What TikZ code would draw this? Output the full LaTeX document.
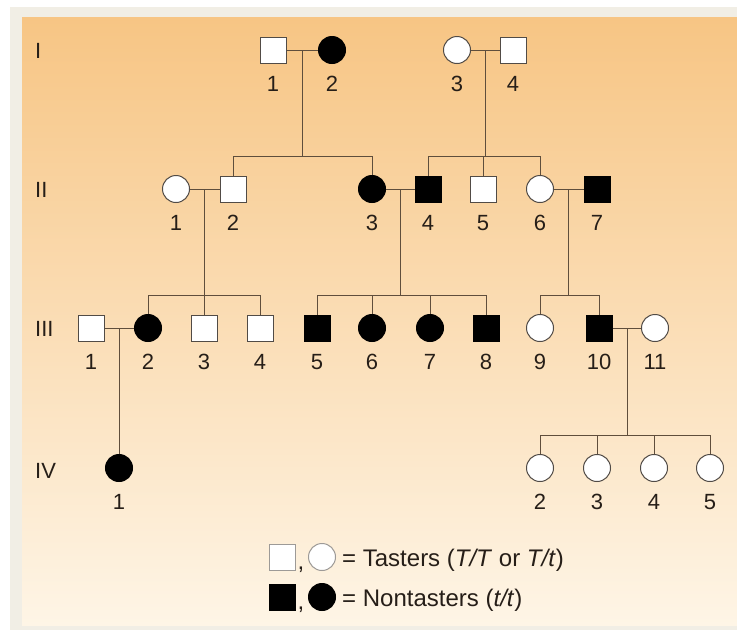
\documentclass[tikz,border=0pt]{standalone}
\usepackage{fontspec}
\setmainfont{Liberation Sans}
\usetikzlibrary{calc}

\definecolor{bgtop}{RGB}{247,197,132}
\definecolor{bgmid}{RGB}{251,222,174}
\definecolor{bgbot}{RGB}{254,245,230}
\definecolor{framecol}{RGB}{241,238,229}
\definecolor{linecol}{RGB}{95,78,60}
\definecolor{inkcol}{RGB}{38,30,24}

\tikzset{
  person/.style={draw=inkcol!80, line width=1pt, fill=white, minimum size=27pt, inner sep=0pt},
  male/.style={person, rectangle, minimum size=26pt},
  female/.style={person, circle},
  aff/.style={fill=black, draw=black},
  num/.style={font=\fontsize{22}{26}\selectfont, text=inkcol, inner sep=0pt, text height=16pt, text depth=0pt},
  lbl/.style={num, label distance=11.5pt},
  gen/.style={num, anchor=west},
  legtext/.style={font=\fontsize{24}{28}\selectfont, text=inkcol, inner sep=0pt, anchor=base west},
  link/.style={draw=linecol, line width=0.9pt},
}

\begin{document}
\begin{tikzpicture}[x=1pt,y=-1pt]
  \useasboundingbox (0,0) rectangle (737,630);
  % background
  \fill[framecol] (10,7) rectangle (737,630);
  \shade[top color=bgtop, middle color=bgmid, bottom color=bgbot] (22,17) rectangle (737,625);

  % generation numbers
  \node[gen] (genI)   at (35,50)  {I};
  \node[gen] (genII)  at (35,189) {II};
  \node[gen] (genIII) at (35,328) {III};
  \node[gen] (genIV)  at (35,470) {IV};

  % Generation I
  \node[male]      (I1) at (273,50) [label={[lbl,name=I1n]below:1}] {};
  \node[female,aff](I2) at (332,50) [label={[lbl,name=I2n]below:2}] {};
  \node[female]    (I3) at (457,50) [label={[lbl,name=I3n]below:3}] {};
  \node[male]      (I4) at (513,50) [label={[lbl,name=I4n]below:4}] {};

  % Generation II
  \node[female]    (II1) at (176,189) [label={[lbl,name=II1n]below:1}] {};
  \node[male]      (II2) at (233,189) [label={[lbl,name=II2n]below:2}] {};
  \node[female,aff](II3) at (372,189) [label={[lbl,name=II3n]below:3}] {};
  \node[male,aff]  (II4) at (428,189) [label={[lbl,name=II4n]below:4}] {};
  \node[male]      (II5) at (483,189) [label={[lbl,name=II5n]below:5}] {};
  \node[female]    (II6) at (540,189) [label={[lbl,name=II6n]below:6}] {};
  \node[male,aff]  (II7) at (597,189) [label={[lbl,name=II7n]below:7}] {};

  % Generation III
  \node[male]      (III1)  at (91,328)  [label={[lbl,name=III1n]below:1}] {};
  \node[female,aff](III2)  at (148,328) [label={[lbl,name=III2n]below:2}] {};
  \node[male]      (III3)  at (204,328) [label={[lbl,name=III3n]below:3}] {};
  \node[male]      (III4)  at (260,328) [label={[lbl,name=III4n]below:4}] {};
  \node[male,aff]  (III5)  at (317,328) [label={[lbl,name=III5n]below:5}] {};
  \node[female,aff](III6)  at (372,328) [label={[lbl,name=III6n]below:6}] {};
  \node[female,aff](III7)  at (430,328) [label={[lbl,name=III7n]below:7}] {};
  \node[male,aff]  (III8)  at (486,328) [label={[lbl,name=III8n]below:8}] {};
  \node[female]    (III9)  at (540,328) [label={[lbl,name=III9n]below:9}] {};
  \node[male,aff]  (III10) at (599,328) [label={[lbl,name=III10n]below:10}] {};
  \node[female]    (III11) at (655,328) [label={[lbl,name=III11n]below:11}] {};

  % Generation IV
  \node[female,aff](IV1) at (119,468) [label={[lbl,name=IV1n]below:1}] {};
  \node[female]    (IV2) at (540,468) [label={[lbl,name=IV2n]below:2}] {};
  \node[female]    (IV3) at (597,468) [label={[lbl,name=IV3n]below:3}] {};
  \node[female]    (IV4) at (654,468) [label={[lbl,name=IV4n]below:4}] {};
  \node[female]    (IV5) at (710,468) [label={[lbl,name=IV5n]below:5}] {};

  % sibship levels
  \coordinate (sI)   at (0,156);
  \coordinate (sII)  at (0,295);
  \coordinate (sIII) at (0,435);

  % matings
  \draw[link] (I1) -- (I2);
  \draw[link] (I3) -- (I4);
  \draw[link] (II1) -- (II2);
  \draw[link] (II3) -- (II4);
  \draw[link] (II6) -- (II7);
  \draw[link] (III1) -- (III2);
  \draw[link] (III10) -- (III11);
  \coordinate (mI12)    at ($(I1)!0.5!(I2)$);
  \coordinate (mI34)    at ($(I3)!0.5!(I4)$);
  \coordinate (mII12)   at ($(II1)!0.5!(II2)$);
  \coordinate (mII34)   at ($(II3)!0.5!(II4)$);
  \coordinate (mII67)   at ($(II6)!0.5!(II7)$);
  \coordinate (mIII12)  at ($(III1)!0.5!(III2)$);
  \coordinate (mIII1011) at ($(III10)!0.5!(III11)$);

  % descent lines
  \draw[link] (mI12) -- (mI12 |- sI);
  \draw[link] (II2 |- sI) -- (II3 |- sI);
  \foreach \c in {II2,II3} \draw[link] (\c |- sI) -- (\c);

  \draw[link] (mI34) -- (mI34 |- sI);
  \draw[link] (II4 |- sI) -- (II6 |- sI);
  \foreach \c in {II4,II5,II6} \draw[link] (\c |- sI) -- (\c);

  \draw[link] (mII12) -- (mII12 |- sII);
  \draw[link] (III2 |- sII) -- (III4 |- sII);
  \foreach \c in {III2,III3,III4} \draw[link] (\c |- sII) -- (\c);

  \draw[link] (mII34) -- (mII34 |- sII);
  \draw[link] (III5 |- sII) -- (III8 |- sII);
  \foreach \c in {III5,III6,III7,III8} \draw[link] (\c |- sII) -- (\c);

  \draw[link] (mII67) -- (mII67 |- sII);
  \draw[link] (III9 |- sII) -- (III10 |- sII);
  \foreach \c in {III9,III10} \draw[link] (\c |- sII) -- (\c);

  \draw[link] (mIII12) -- (mIII12 |- IV1.north);

  \draw[link] (mIII1011) -- (mIII1011 |- sIII);
  \draw[link] (IV2 |- sIII) -- (IV5 |- sIII);
  \foreach \c in {IV2,IV3,IV4,IV5} \draw[link] (\c |- sIII) -- (\c);

  % legend
  \node[male, draw=inkcol!45]   (legm1) at (282,557) {};
  \node[legtext, anchor=base]   (legc1) at (301,569) {,};
  \node[female, draw=inkcol!45] (legf1) at (322,557) {};
  \node[legtext] (legt1) at (342,566) {= Tasters (\textit{T/T} or \textit{T/t})};
  \node[male,aff]   (legm2) at (282,597) {};
  \node[legtext, anchor=base] (legc2) at (301,609) {,};
  \node[female,aff] (legf2) at (322,597) {};
  \node[legtext] (legt2) at (342,606) {= Nontasters (\textit{t/t})};
\end{tikzpicture}
\end{document}
